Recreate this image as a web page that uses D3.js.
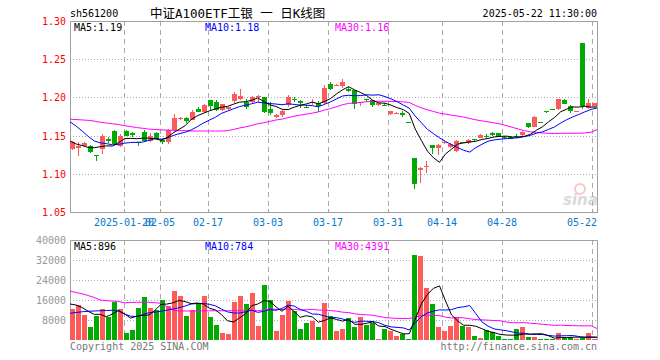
<!DOCTYPE html>
<html><head><meta charset="utf-8">
<script src="https://cdn.jsdelivr.net/npm/d3@7"></script>
<style>
body{margin:0;background:#fff}
svg{display:block}
text{font-family:"DejaVu Sans Mono",monospace;font-size:10px}
</style>
</head><body>
<svg id="chart" width="660" height="360"></svg>
<script>
// ---------- data ----------
const dates = [
"2025-01-07","2025-01-08","2025-01-09","2025-01-10","2025-01-13","2025-01-14","2025-01-15","2025-01-16","2025-01-17","2025-01-20",
"2025-01-21","2025-01-22","2025-01-23","2025-01-24","2025-01-27",
"2025-02-05","2025-02-06","2025-02-07","2025-02-10","2025-02-11","2025-02-12","2025-02-13","2025-02-14","2025-02-17","2025-02-18",
"2025-02-19","2025-02-20","2025-02-21","2025-02-24","2025-02-25","2025-02-26","2025-02-27","2025-02-28",
"2025-03-03","2025-03-04","2025-03-05","2025-03-06","2025-03-07","2025-03-10","2025-03-11","2025-03-12","2025-03-13","2025-03-14",
"2025-03-17","2025-03-18","2025-03-19","2025-03-20","2025-03-21","2025-03-24","2025-03-25","2025-03-26","2025-03-27","2025-03-28","2025-03-31",
"2025-04-01","2025-04-02","2025-04-03","2025-04-07","2025-04-08","2025-04-09","2025-04-10","2025-04-11","2025-04-14","2025-04-15",
"2025-04-16","2025-04-17","2025-04-18","2025-04-21","2025-04-22","2025-04-23","2025-04-24","2025-04-25","2025-04-28","2025-04-29","2025-04-30",
"2025-05-06","2025-05-07","2025-05-08","2025-05-09","2025-05-12","2025-05-13","2025-05-14","2025-05-15","2025-05-16","2025-05-19",
"2025-05-20","2025-05-21","2025-05-22"];

const opens = [1.132,1.134,1.137,1.137,1.124,1.133,1.146,1.156,1.137,1.156,
1.154,1.1415,1.155,1.1425,1.1535,1.1445,1.1415,1.157,1.172,1.1735,
1.171,1.1845,1.1815,1.196,1.1945,1.1835,1.1845,1.1947,1.1978,1.1939,
1.1934,1.2004,1.2004,1.185,1.1737,1.1772,1.1895,1.1978,1.1956,1.1868,
1.1921,1.1925,1.1925,1.218,1.2158,1.2154,1.211,1.210,1.193,1.1975,
1.196,1.190,1.1897,1.1785,1.1798,1.1794,1.168,1.121,1.1044,1.1096,
1.1377,1.1333,1.141,1.1347,1.130,1.1415,1.140,1.146,1.1465,1.1497,
1.154,1.153,1.1487,1.1487,1.1497,1.151,1.1662,1.1618,1.1684,1.1825,
1.1846,1.1851,1.1969,1.189,1.1814,1.2715,1.1855,1.189];
const highs = [1.143,1.142,1.141,1.138,1.124,1.152,1.148,1.157,1.152,1.157,
1.155,1.142,1.157,1.154,1.155,1.145,1.159,1.178,1.175,1.174,
1.184,1.187,1.192,1.196,1.197,1.192,1.188,1.2074,1.2114,1.198,
1.202,1.203,1.2005,1.1934,1.178,1.183,1.2035,1.2004,1.197,1.1895,
1.198,1.195,1.2167,1.2206,1.217,1.2246,1.2136,1.210,1.1945,1.198,
1.197,1.193,1.1925,1.182,1.1806,1.1816,1.168,1.121,1.109,1.1166,
1.1377,1.139,1.1443,1.140,1.1443,1.1415,1.145,1.146,1.1515,1.152,
1.1545,1.1535,1.149,1.149,1.152,1.156,1.1665,1.176,1.1684,1.1825,
1.185,1.1982,1.1975,1.190,1.1816,1.2715,1.1978,1.193];
const lows = [1.131,1.123,1.136,1.127,1.117,1.126,1.140,1.138,1.135,1.149,
1.148,1.136,1.141,1.141,1.145,1.139,1.139,1.156,1.171,1.166,
1.170,1.181,1.180,1.184,1.182,1.182,1.184,1.193,1.197,1.185,
1.192,1.1934,1.180,1.1775,1.1725,1.175,1.188,1.1939,1.186,1.186,
1.1895,1.181,1.192,1.210,1.215,1.2123,1.2066,1.185,1.1886,1.1934,
1.188,1.189,1.1893,1.1775,1.179,1.175,1.1675,1.0807,1.0886,1.1004,
1.1254,1.1245,1.1386,1.134,1.1285,1.141,1.139,1.1425,1.1465,1.147,
1.150,1.148,1.146,1.145,1.1475,1.150,1.1605,1.161,1.167,1.1795,
1.183,1.184,1.191,1.179,1.1814,1.185,1.185,1.188];
const closes = [1.142,1.137,1.140,1.128,1.1235,1.149,1.1425,1.1385,1.150,1.150,
1.151,1.140,1.1425,1.150,1.146,1.141,1.157,1.1735,1.1735,1.1695,
1.1815,1.1815,1.190,1.189,1.1835,1.1915,1.187,1.2048,1.2022,1.1868,
1.2004,1.2022,1.1811,1.180,1.1772,1.1816,1.200,1.1969,1.1925,1.186,
1.1939,1.1882,1.2127,1.2114,1.2167,1.2206,1.2088,1.1912,1.1943,1.1965,
1.1895,1.1925,1.1893,1.1816,1.1802,1.1768,1.1675,1.0864,1.1079,1.110,
1.1333,1.1377,1.1415,1.139,1.143,1.141,1.1443,1.1456,1.1509,1.1493,
1.151,1.148,1.1474,1.1452,1.1493,1.1553,1.161,1.1741,1.168,1.182,
1.1836,1.1982,1.1917,1.1816,1.1816,1.189,1.1925,1.1925];
const volumes = [12400,14000,10000,5200,9700,12400,9300,15300,12400,2900,
4000,12900,17200,12900,12100,16000,13700,19700,17700,9600,
12100,14900,17700,9300,6100,2900,2500,15200,17700,14400,
18900,5700,22100,16000,3600,10100,15600,11700,4400,6800,
7700,5200,14900,9700,3600,4400,8700,5200,9300,6000,
6900,400,4400,3600,1600,2400,400,34000,33600,20900,
14400,5300,3600,5700,9200,5700,5300,1600,800,4000,
3200,1600,400,400,4400,5200,1200,1200,400,400,
400,2800,800,1200,400,800,2800,400];

// moving-average values for the first days (before the window holds enough data)
const ma5Lead  = [1.143,1.139,1.137,1.1345];
const ma10Lead = [1.168,1.1625,1.156,1.149,1.143,1.1405,1.1395,1.138,1.1385];
const ma30Lead = [1.1715,1.171,1.1705,1.170,1.169,1.1675,1.1665,1.1655,1.1645,1.163,
1.1618,1.1605,1.1596,1.1585,1.158,1.1575,1.1572,1.157,1.1565,1.1565,
1.156,1.156,1.156,1.156,1.156,1.156,1.1565,1.158,1.160];
const vma5Lead  = [14400,14000,13000,11500];
const vma10Lead = [10700,11000,11300,11500,11600,11700,11800,11900,11600];
const vma30Lead = [19600,19000,18500,17800,17000,16000,15700,15600,15400,14900,
15000,15100,15100,15100,14900,14700,13300,12000,11600,11600,
11600,11600,11700,11700,11700,11700,11700,11700,11700];

const priceTicks = [1.30,1.25,1.20,1.15,1.10,1.05];
const volTicks = [40000,32000,24000,16000,8000];
const dateTicks = ["2025-01-20","2025-02-05","2025-02-17","2025-03-03","2025-03-17","2025-03-31","2025-04-14","2025-04-28","2025-05-22"];

const headerCode = "sh561200";
const headerTitle = "中证A100ETF工银 一 日K线图";
const headerTime = "2025-05-22 11:30:00";
const priceLegend = [["MA5:1.19","#000"],["MA10:1.18","#0000ff"],["MA30:1.16","#ff00ff"]];
const volLegend = [["MA5:896","#000"],["MA10:784","#0000ff"],["MA30:4391","#ff00ff"]];

// ---------- helpers ----------
function movingAvg(arr, n, lead){
  return arr.map((v,i)=> i < n-1 ? lead[i] : d3.mean(arr.slice(i-n+1,i+1)));
}
const RED = "#ff5a5a", GREEN = "#00aa00", GRID = "#aaaaaa", BORDER = "#a0a0a0";

const svg = d3.select("#chart");
const L = 70, R = 597;
const PT = 21, PB = 212, VT = 240, VB = 340;

const x = d3.scaleBand().domain(dates).range([L, L+528]).paddingInner(1/6).paddingOuter(0).align(0).round(true);
const xl = d3.scalePoint().domain(dates).range([L, R]);
const yP = d3.scaleLinear().domain([1.05,1.30]).range([PB, PT]);
const yV = d3.scaleLinear().domain([0,40000]).range([VB, VT]);

const data = dates.map((d,i)=>({d, o:opens[i], h:highs[i], l:lows[i], c:closes[i], v:volumes[i]}));
const colorOf = p => p.c >= p.o ? RED : GREEN;

// ---------- header ----------
svg.append("text").attr("x",L).attr("y",17).text(headerCode);
svg.append("text").attr("x",150).attr("y",18)
  .style("font-family","'DejaVu Sans Mono','Noto Sans CJK SC',sans-serif").style("font-size","12.5px").text(headerTitle);
svg.append("text").attr("x",R).attr("y",17).attr("text-anchor","end").text(headerTime);

// ---------- price panel ----------
const gP = svg.append("g");
// horizontal dotted grid
gP.selectAll("line.h").data(priceTicks.filter(t=>t<1.29 && t>1.06)).join("line")
  .attr("x1",L).attr("x2",R).attr("y1",t=>Math.round(yP(t))+0.5).attr("y2",t=>Math.round(yP(t))+0.5)
  .attr("stroke",GRID).attr("stroke-dasharray","1,2");
// vertical dashed grid
gP.selectAll("line.v").data(dateTicks).join("line")
  .attr("x1",d=>x(d)+0.5).attr("x2",d=>x(d)+0.5).attr("y1",PT).attr("y2",PB)
  .attr("stroke",GRID).attr("stroke-dasharray","5,4");
// border
gP.append("rect").attr("x",L+0.5).attr("y",PT+0.5).attr("width",R-L).attr("height",PB-PT)
  .attr("fill","none").attr("stroke",BORDER);
// x ticks
gP.selectAll("line.t").data(dateTicks).join("line")
  .attr("x1",d=>x(d)+0.5).attr("x2",d=>x(d)+0.5).attr("y1",PB-3).attr("y2",PB)
  .attr("stroke",BORDER);
// y labels
gP.selectAll("text.y").data(priceTicks).join("text")
  .attr("x",66).attr("y",t=>yP(t)+4).attr("text-anchor","end").attr("fill","#ff0000")
  .text(t=>t.toFixed(2));
// x labels
gP.selectAll("text.x").data(dateTicks).join("text")
  .attr("x",(d,i)=> i===dateTicks.length-1 ? R : x(d))
  .attr("y",226)
  .attr("text-anchor",(d,i)=> i===dateTicks.length-1 ? "end" : "middle")
  .attr("fill","#0a78c8")
  .text((d,i)=> i===0 ? d : d.slice(5));

// watermark
const wm = svg.append("g").attr("opacity",0.55);
wm.append("circle").attr("cx",580).attr("cy",189).attr("r",5).attr("fill","none").attr("stroke","#f0a0a0").attr("stroke-width",2);
wm.append("text").attr("x",563).attr("y",205).style("font-family","'DejaVu Sans',sans-serif")
  .style("font-size","15px").style("font-style","italic").style("font-weight","bold").attr("fill","#bbb").text("sina");

// candles
const gC = gP.append("g").attr("shape-rendering","crispEdges");
gC.selectAll("rect.w").data(data).join("rect")
  .attr("x",p=>x(p.d)+2).attr("width",1)
  .attr("y",p=>yP(p.h)).attr("height",p=>Math.max(1,yP(p.l)-yP(p.h)))
  .attr("fill",colorOf);
gC.selectAll("rect.b").data(data).join("rect")
  .attr("x",p=>x(p.d)).attr("width",x.bandwidth())
  .attr("y",p=>yP(Math.max(p.o,p.c))).attr("height",p=>Math.max(1,Math.abs(yP(p.o)-yP(p.c))))
  .attr("fill",colorOf);

// MA lines
const ma5 = movingAvg(closes,5,ma5Lead), ma10 = movingAvg(closes,10,ma10Lead), ma30 = movingAvg(closes,30,ma30Lead);
const lineP = d3.line().x((v,i)=>xl(dates[i])).y(v=>yP(v));
[[ma30,"#ff00ff"],[ma10,"#0000ff"],[ma5,"#000"]].forEach(([s,c])=>{
  gP.append("path").attr("d",lineP(s)).attr("fill","none").attr("stroke",c).attr("stroke-width",1);
});
// legend
priceLegend.forEach(([t,c],i)=>{
  gP.append("text").attr("x",[74,205,335][i]).attr("y",31).attr("fill",c).text(t);
});

// ---------- volume panel ----------
const gV = svg.append("g");
gV.selectAll("line.h").data(volTicks.slice(1)).join("line")
  .attr("x1",L).attr("x2",R).attr("y1",t=>Math.round(yV(t))+0.5).attr("y2",t=>Math.round(yV(t))+0.5)
  .attr("stroke",GRID).attr("stroke-dasharray","1,2");
gV.selectAll("line.v").data(dateTicks).join("line")
  .attr("x1",d=>x(d)+0.5).attr("x2",d=>x(d)+0.5).attr("y1",VT).attr("y2",VB)
  .attr("stroke",GRID).attr("stroke-dasharray","5,4");
gV.append("path").attr("d",`M${L+0.5},${VB}V${VT+0.5}H${R+0.5}V${VB}`)
  .attr("fill","none").attr("stroke",BORDER);
gV.selectAll("text.y").data(volTicks).join("text")
  .attr("x",66).attr("y",t=>yV(t)+4).attr("text-anchor","end").attr("fill","#999")
  .text(t=>t);
gV.append("g").attr("shape-rendering","crispEdges").selectAll("rect").data(data).join("rect")
  .attr("x",p=>x(p.d)).attr("width",x.bandwidth())
  .attr("y",p=>yV(p.v)).attr("height",p=>yV(0)-yV(p.v))
  .attr("fill",colorOf);
const vma5 = movingAvg(volumes,5,vma5Lead), vma10 = movingAvg(volumes,10,vma10Lead), vma30 = movingAvg(volumes,30,vma30Lead);
const lineV = d3.line().x((v,i)=>xl(dates[i])).y(v=>yV(v));
[[vma30,"#ff00ff"],[vma10,"#0000ff"],[vma5,"#000"]].forEach(([s,c])=>{
  gV.append("path").attr("d",lineV(s)).attr("fill","none").attr("stroke",c).attr("stroke-width",1);
});
volLegend.forEach(([t,c],i)=>{
  gV.append("text").attr("x",[74,205,335][i]).attr("y",250).attr("fill",c).text(t);
});

// footer
svg.append("text").attr("x",L).attr("y",350).attr("fill","#777").text("Copyright 2025 SINA.COM");
svg.append("text").attr("x",R).attr("y",350).attr("text-anchor","end").attr("fill","#777").text("http://finance.sina.com.cn");
</script>
</body></html>
